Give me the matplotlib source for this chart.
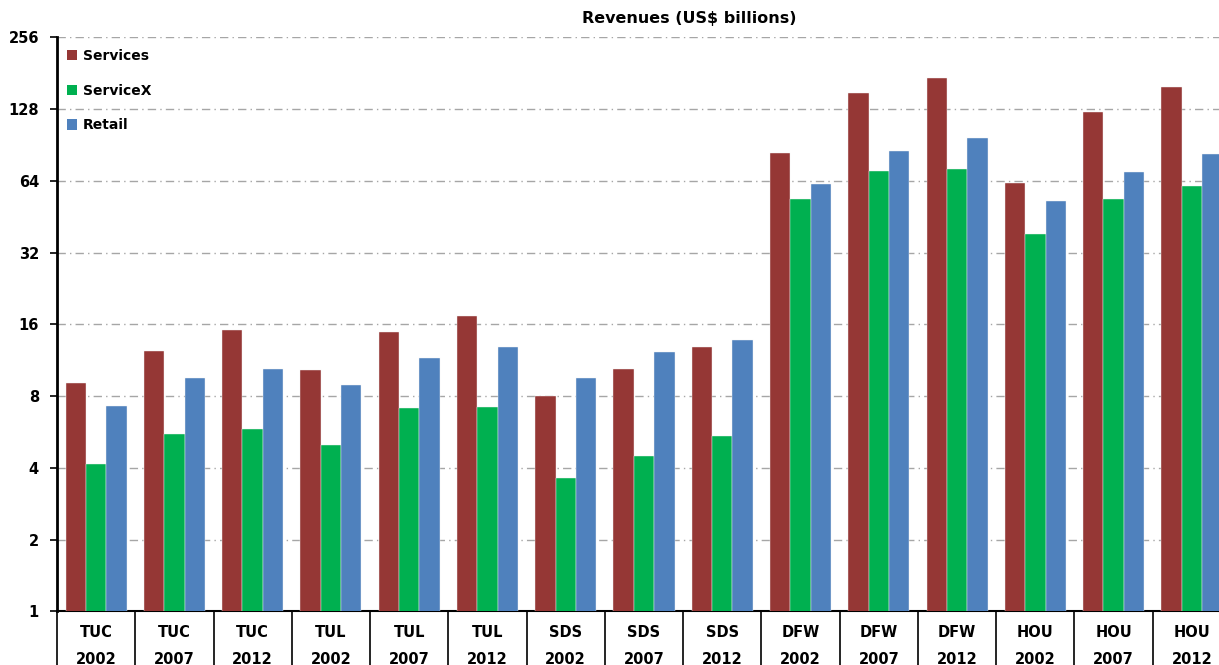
import matplotlib
matplotlib.use("Agg")
import matplotlib.pyplot as plt
import numpy as np
from matplotlib.patches import Patch
from matplotlib.ticker import FixedLocator, NullFormatter

# Metro areas and survey years
metros = ["TUC", "TUC", "TUC", "TUL", "TUL", "TUL", "SDS", "SDS", "SDS",
          "DFW", "DFW", "DFW", "HOU", "HOU", "HOU"]
years = ["2002", "2007", "2012"] * 5

# Revenues in US$ billions
services = [9.05, 12.4, 15.2, 10.3, 14.8, 17.3, 8.0, 10.4, 12.9,
            83.5, 149.5, 173.0, 62.5, 125.0, 158.0]
servicex = [4.14, 5.57, 5.84, 4.97, 7.1, 7.18, 3.61, 4.5, 5.42,
            53.5, 70.2, 72.0, 38.2, 53.5, 61.1]
retail = [7.27, 9.56, 10.4, 8.88, 11.5, 12.8, 9.5, 12.2, 13.7,
          61.9, 85.4, 97.2, 52.5, 69.7, 83.2]

series_names = ["Services", "ServiceX", "Retail"]
colors = ["#953735", "#00B050", "#4F81BD"]
y_ticks = [1, 2, 4, 8, 16, 32, 64, 128, 256]

plt.rcParams["font.family"] = ["DejaVu Sans"]
plt.rcParams["font.weight"] = "bold"

fig = plt.figure(figsize=(12.19, 6.65), dpi=100)
ax = fig.add_axes([57 / 1219, 53.7 / 665, 1174 / 1219, 574 / 665])

x = np.arange(len(metros))
w = 0.26
for k, (vals, col) in enumerate(zip([services, servicex, retail], colors)):
    ax.bar(x + (k - 1) * w, vals, width=w, color=col, edgecolor="#F2F2F2",
           linewidth=0.3, zorder=3)

ax.set_yscale("log", base=2)
ax.set_ylim(1, 256)
ax.set_xlim(-0.5, len(metros) - 0.5)
ax.yaxis.set_major_locator(FixedLocator(y_ticks))
ax.yaxis.set_minor_locator(FixedLocator([]))
ax.set_yticklabels([str(t) for t in y_ticks], fontsize=10.5, fontweight="bold")
ax.tick_params(axis="y", which="major", length=5, width=1.2, direction="out", pad=8)
ax.yaxis.grid(True, color="#A6A6A6", linestyle=(0, (6, 3, 1, 3)), linewidth=1.0, zorder=0)

# Category labels with separators between groups
ax.set_xticks(x)
ax.set_xticklabels([f"{m}\n{y}" for m, y in zip(metros, years)],
                   fontsize=10.5, fontweight="bold", linespacing=2.0)
ax.tick_params(axis="x", which="major", length=0, pad=10)
ax.xaxis.set_minor_locator(FixedLocator(np.arange(-0.5, len(metros) + 0.5, 1.0)))
ax.xaxis.set_minor_formatter(NullFormatter())
ax.tick_params(axis="x", which="minor", length=42, width=1.2, direction="out", color="black")

for side in ["top", "right"]:
    ax.spines[side].set_visible(False)
ax.spines["left"].set_linewidth(2.0)
ax.spines["bottom"].set_linewidth(1.5)

handles = [Patch(facecolor=c, edgecolor="none") for c in colors]
leg = ax.legend(handles, series_names, loc="upper left", bbox_to_anchor=(0.0, 0.997),
                frameon=False, fontsize=10, handlelength=0.75, handleheight=0.75,
                handletextpad=0.4, labelspacing=1.5, borderaxespad=0.3)
for t in leg.get_texts():
    t.set_fontweight("bold")

fig.text(689 / 1219, 1 - 19 / 665, "Revenues (US$ billions)", ha="center", va="center",
         fontsize=11.5, fontweight="bold")

fig.savefig("out.png", dpi=100)
